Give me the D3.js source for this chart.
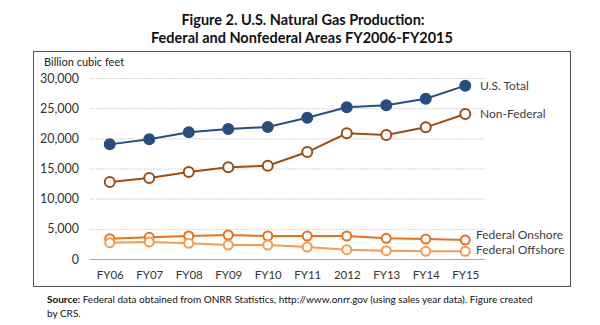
<!DOCTYPE html>
<html lang="en">
<head>
    <meta charset="UTF-8">
    <title>U.S. Natural Gas Production</title>
    <script src="https://d3js.org/d3.v7.min.js"></script>
    <style>
        body { margin: 0; background: #fff; }
        svg { display: block; font-family: Lato, "Open Sans", sans-serif; }
    </style>
</head>
<body>
    <svg id="chart" width="600" height="325"></svg>

    <script>
        // Data (billion cubic feet)
        const years = ["FY06", "FY07", "FY08", "FY09", "FY10", "FY11", "2012", "FY13", "FY14", "FY15"];
        const usTotal = [19000, 19850, 21000, 21550, 21880, 23420, 25140, 25470, 26570, 28730];
        const nonFederal = [12760, 13430, 14420, 15190, 15470, 17730, 20830, 20550, 21820, 24030];
        const fedOnshore = [3370, 3590, 3810, 3980, 3810, 3800, 3810, 3420, 3310, 3150];
        const fedOffshore = [2710, 2820, 2600, 2320, 2320, 1990, 1550, 1380, 1270, 1270];
        const yTicks = [0, 5000, 10000, 15000, 20000, 25000, 30000];

        const series = [
            { name: "U.S. Total", values: usTotal, color: "#264f7f", filled: true, r: 5, dy: 0 },
            { name: "Non-Federal", values: nonFederal, color: "#9c4d14", filled: false, r: 5, dy: 0 },
            { name: "Federal Onshore", values: fedOnshore, color: "#e5731e", filled: false, r: 4.5, dy: -5 },
            { name: "Federal Offshore", values: fedOffshore, color: "#f59a4f", filled: false, r: 4.5, dy: -2 }
        ];

        const svg = d3.select("#chart");

        // Titles
        svg.append("text")
            .attr("x", 303).attr("y", 25)
            .attr("text-anchor", "middle")
            .attr("font-size", 14.5).attr("font-weight", "bold").attr("fill", "#111")
            .text("Figure 2. U.S. Natural Gas Production:");
        svg.append("text")
            .attr("x", 302).attr("y", 43)
            .attr("text-anchor", "middle")
            .attr("font-size", 14.5).attr("font-weight", "bold").attr("fill", "#111")
            .text("Federal and Nonfederal Areas FY2006-FY2015");

        // Frame
        svg.append("rect")
            .attr("x", 33.5).attr("y", 51.5)
            .attr("width", 537).attr("height", 235)
            .attr("fill", "none").attr("stroke", "#555").attr("stroke-width", 1);

        const x = d3.scalePoint().domain(years).range([90, 485]).padding(0.5);
        const y = d3.scaleLinear().domain([0, 30000]).range([259, 78]);

        // Grid lines
        svg.append("g")
            .selectAll("line")
            .data(yTicks.filter(d => d > 0))
            .join("line")
            .attr("x1", 90).attr("x2", 485)
            .attr("y1", d => y(d) + 0.5).attr("y2", d => y(d) + 0.5)
            .attr("stroke", "#d4d4d4").attr("stroke-dasharray", "2,1");

        // y axis labels
        const yAxis = svg.append("g")
            .attr("transform", "translate(90,0)")
            .call(d3.axisLeft(y).tickValues(yTicks).tickFormat(d3.format(",")).tickSize(0).tickPadding(11));
        yAxis.select(".domain").remove();
        yAxis.selectAll("text").attr("font-size", 12.5).attr("fill", "#333").attr("font-family", "Lato, sans-serif");

        // x axis
        const xAxis = svg.append("g")
            .attr("transform", "translate(0,259.5)")
            .call(d3.axisBottom(x).tickSize(0).tickPadding(11));
        xAxis.select(".domain").attr("d", "M90,0H485").attr("stroke", "#aaa");
        xAxis.selectAll("text").attr("font-size", 11.5).attr("fill", "#333").attr("font-family", "Lato, sans-serif");

        svg.append("text")
            .attr("x", 44).attr("y", 66)
            .attr("font-size", 11).attr("fill", "#222")
            .text("Billion cubic feet");

        // Lines and markers
        const line = d3.line()
            .x((d, i) => x(years[i]))
            .y(d => y(d));

        series.forEach(s => {
            svg.append("path")
                .datum(s.values)
                .attr("d", line)
                .attr("fill", "none")
                .attr("stroke", s.color)
                .attr("stroke-width", 2);

            svg.append("g")
                .selectAll("circle")
                .data(s.values)
                .join("circle")
                .attr("cx", (d, i) => x(years[i]))
                .attr("cy", d => y(d))
                .attr("r", s.r)
                .attr("fill", s.filled ? s.color : "#fff")
                .attr("stroke", s.color)
                .attr("stroke-width", 2);

            const last = s.values[s.values.length - 1];
            svg.append("text")
                .attr("x", s.dy === 0 ? 480 : 476)
                .attr("y", y(last) + s.dy)
                .attr("dy", "0.35em")
                .attr("font-size", 12)
                .attr("fill", "#404040")
                .text(s.name);
        });

        // Source note
        const note = svg.append("text")
            .attr("x", 47).attr("y", 303)
            .attr("font-size", 10).attr("fill", "#111");
        note.append("tspan").attr("font-weight", "bold").text("Source:");
        note.append("tspan").text(" Federal data obtained from ONRR Statistics, http://www.onrr.gov (using sales year data). Figure created");
        svg.append("text")
            .attr("x", 47).attr("y", 317)
            .attr("font-size", 10).attr("fill", "#111")
            .text("by CRS.");
    </script>
</body>
</html>
